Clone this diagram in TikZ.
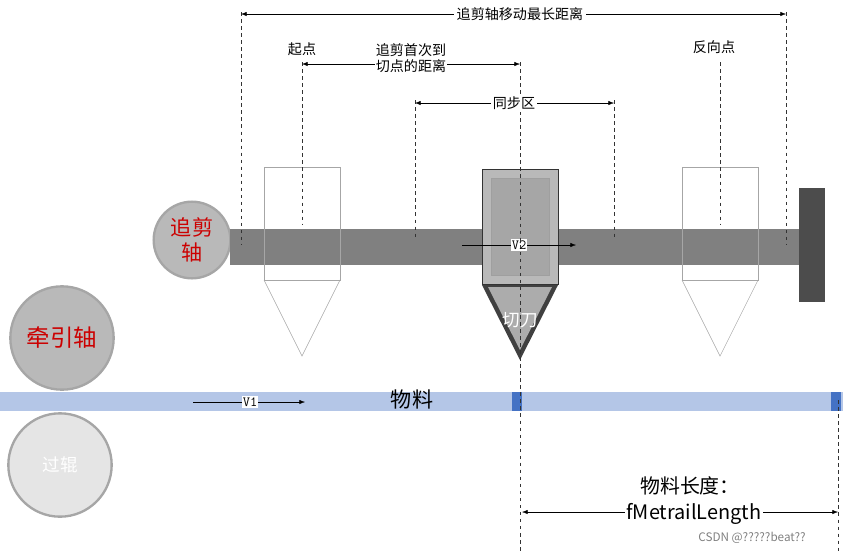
\documentclass[tikz,border=0pt]{standalone}
\usepackage{fontspec}
\setmainfont{Noto Sans CJK SC}
\usetikzlibrary{arrows.meta, positioning}
\definecolor{matblue}{RGB}{180,198,231}
\definecolor{markblue}{RGB}{68,114,196}
\begin{document}
\begin{tikzpicture}[x=0.03cm, y=-0.03cm, every node/.style={font=\fontsize{12}{14}\selectfont},
      dim/.style={Latex-Latex, thin},
      guide/.style={dashed, thin, black!80},
      roller/.style={circle, draw=gray!70, line width=2pt, inner sep=0pt},
      ghost/.style={draw=black!35, thin},
      vel/.style={-Latex, thin},
      tag/.style={fill=white, inner sep=1pt, font=\fontsize{12}{14}\selectfont\ttfamily}]
      \useasboundingbox (0,0) rectangle (843,554);

      % Rollers
      \node[roller, fill=gray!55, minimum size=2.3cm, text=red!80!black, align=center, font=\fontsize{18}{21}\selectfont] (chase) at (192,240) {追剪\\轴};
      \node[roller, fill=gray!55, minimum size=3.1cm, text=red!80!black, font=\fontsize{20}{24}\selectfont] (pull) at (62,338) {牵引轴};
      \node[roller, fill=gray!20, minimum size=3.1cm, text=white, font=\fontsize{15}{18}\selectfont] (idle) at (60,465) {过辊};

      % Shaft and end stop
      \fill[gray] (230,229) rectangle (800,265);
      \node[draw=black!70, fill=gray!60!black, minimum width=0.75cm, minimum height=3.4cm, inner sep=0pt] (stop) at (812,245) {};

      % Material
      \fill[matblue] (0,392) rectangle (843,411);
      \fill[markblue] (512,392) rectangle (522,411);
      \fill[markblue] (831,392) rectangle (841,411);
      \node[font=\fontsize{18}{21}\selectfont] (mat) at (412,399) {物料};
      \coordinate (v1a) at (193,402);
      \coordinate (v1b) at (305,402);
      \draw[vel] (v1a) -- (v1b);
      \node[tag] (v1) at (250,402) {V1};

      % Ghost knives
      \foreach \cx in {302, 720} {
        \draw[ghost] (\cx-38,167) rectangle (\cx+38,280);
        \draw[ghost] (\cx-38,280) -- (\cx,356) -- (\cx+38,280);
      }

      % Active knife
      \fill[gray!50!black] (482,285) -- (520,360) -- (558,285) -- cycle;
      \fill[gray!65] (488,287) -- (520,350) -- (552,287) -- cycle;
      \node[draw=black!80, fill=gray!55, line width=0.8pt, minimum width=2.28cm, minimum height=3.45cm, inner sep=0pt] (knife) at (520,227) {};
      \node[draw=gray!75, fill=gray!70, minimum width=1.75cm, minimum height=2.9cm, inner sep=0pt] at (knife.center) {};
      \node[text=white, font=\fontsize{15}{18}\selectfont] (cut) at (520,320) {切刀};
      \coordinate (v2a) at (462,245);
      \coordinate (v2b) at (576,245);
      \draw[vel] (v2a) -- (v2b);
      \node[tag] (v2) at (519,245) {V2};

      % Guide lines
      \draw[guide] (241,12) -- (241,245);
      \draw[guide] (302,62) -- (302,225);
      \draw[guide] (415,100) -- (415,240);
      \draw[guide] (520,62) -- (520,554);
      \draw[guide] (614,100) -- (614,240);
      \draw[guide] (720,62) -- (720,225);
      \draw[guide] (786,12) -- (786,245);
      \draw[guide] (838,400) -- (838,554);

      % Dimensions
      \coordinate (d1a) at (241,14); \coordinate (d1b) at (786,14);
      \draw[dim] (d1a) -- (d1b);
      \node[fill=white, inner sep=2pt] (d1) at (520,14) {追剪轴移动最长距离};
      \coordinate (d2a) at (302,64); \coordinate (d2b) at (520,64);
      \draw[dim] (d2a) -- (d2b);
      \node[fill=white, inner sep=1pt, align=center] (d2) at (411,58) {追剪首次到\\切点的距离};
      \coordinate (d3a) at (415,103); \coordinate (d3b) at (614,103);
      \draw[dim] (d3a) -- (d3b);
      \node[fill=white, inner sep=2pt] (d3) at (514,103) {同步区};
      \coordinate (d4a) at (522,512); \coordinate (d4b) at (838,512);
      \draw[dim] (d4a) -- (d4b);
      \node[fill=white, inner sep=1pt, font=\fontsize{17}{20}\selectfont] (d4) at (694,514) {fMetrailLength};
      \node[font=\fontsize{17}{20}\selectfont] (len) at (690,486) {物料长度：};

      % Point labels
      \node (start) at (302,49) {起点};
      \node (back) at (714,47) {反向点};
      \node[text=gray, font=\fontsize{10}{12}\selectfont] (mark) at (752,538) {CSDN @?????beat??};
\end{tikzpicture}
\end{document}
